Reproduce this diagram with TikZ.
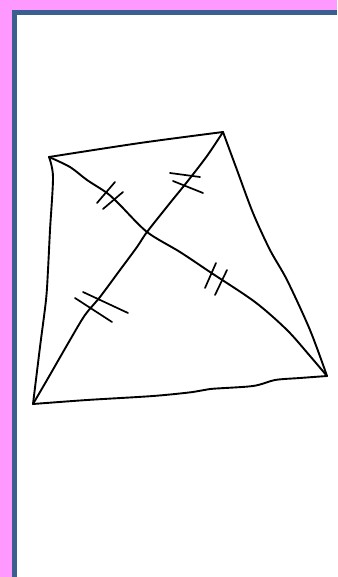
\documentclass[tikz,border=0pt]{standalone}
\definecolor{framepink}{RGB}{255,153,255}
\definecolor{frameblue}{RGB}{59,96,143}
\begin{document}
\begin{tikzpicture}[x=1pt,y=-1pt,
    pen/.style={line width=1.9pt,line cap=round,line join=round},
    tickmark/.style={pen,line width=1.7pt}]
    \useasboundingbox (0,0) rectangle (337,577);
    % page frame
    \fill[framepink] (0,0) rectangle (337,577);
    \fill[frameblue] (12,10) rectangle (337,577);
    \fill[white] (17,15) rectangle (337,577);
    % corners of the kite and the crossing point
    \coordinate (A) at (49,157);
    \coordinate (B) at (223,132);
    \coordinate (C) at (327,376);
    \coordinate (D) at (33,404);
    \coordinate (O) at (147,232);
    % sides
    \draw[pen] plot[smooth] coordinates {(A) (140,143) (B)};
    \draw[pen] plot[smooth] coordinates {(A) (53,177) (50,230) (48,270) (46,300) (40,347) (D)};
    \draw[pen] plot[smooth] coordinates {(B) (237,170) (253,213) (270,250) (287,280) (310,330) (C)};
    \draw[pen] plot[smooth] coordinates {(D) (87,400) (153,396) (193,392) (210,389) (253,386) (275,380) (300,378) (C)};
    % diagonals
    \draw[pen] plot[smooth] coordinates {(A) (70,167) (87,180) (107,193) (120,205) (O) (180,252) (210,272) (255,302) (287,330) (310,356) (C)};
    \draw[pen] plot[smooth] coordinates {(B) (207,156) (187,182) (170,203) (O) (137,247) (120,270) (100,297) (85,315) (70,340) (47,380) (D)};
    % equal-length marks
    \foreach \xa/\ya/\xb/\yb in {115/182/97/203, 123/192/103/209, 170/173/200/177, 173/181/203/193,
                                 216/263/205/288, 227/270/215/295, 83/292/128/313, 75/298/112/322}
        \draw[tickmark] (\xa,\ya) -- (\xb,\yb);
\end{tikzpicture}
\end{document}
